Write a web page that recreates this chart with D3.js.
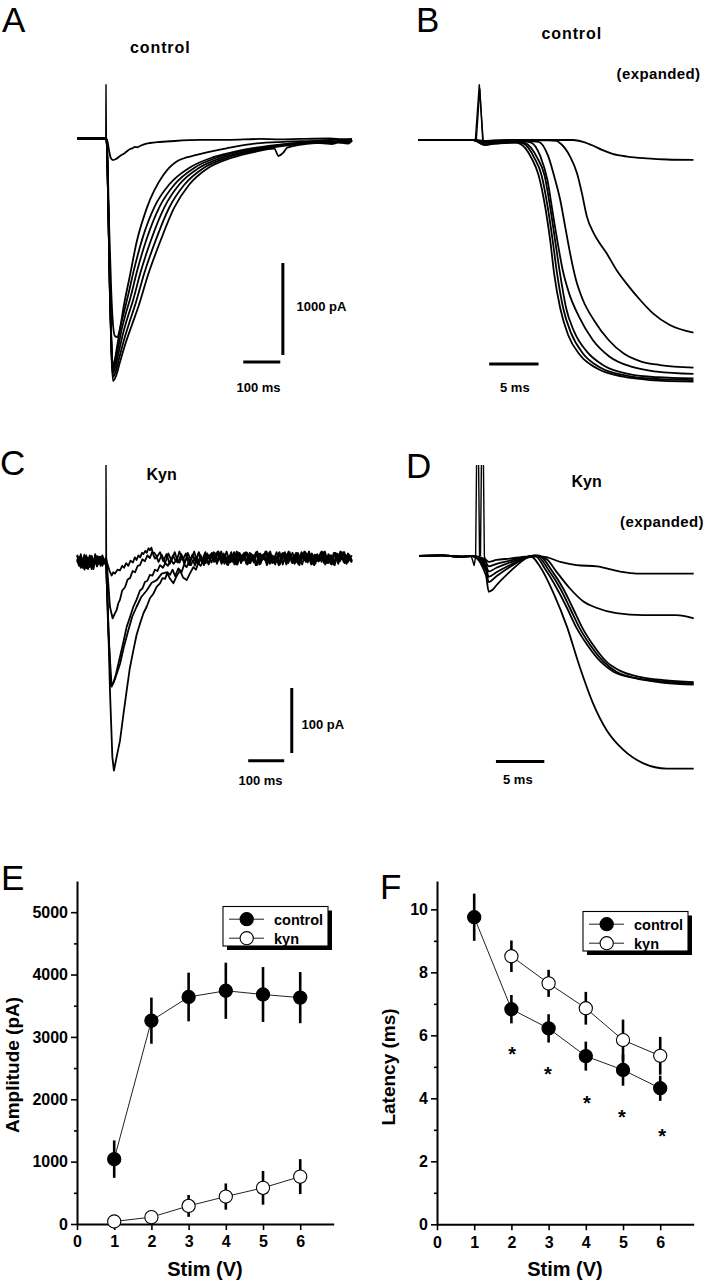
<!DOCTYPE html>
<html>
<head>
<meta charset="utf-8">
<script src="https://cdn.jsdelivr.net/npm/d3@7"></script>
<style>
  html, body { margin: 0; padding: 0; background: #fff; }
  svg { display: block; }
  text { font-family: "Liberation Sans", Arial, Helvetica, sans-serif; fill: #000; }
</style>
</head>
<body>
<svg id="fig" width="707" height="1280"></svg>
<script>
// Evoked currents (A-D, time in ms from the stimulus, current in pA) and the
// stimulus-response summaries (E, F).

// ---- A: control, 7 stimulus strengths ----
var A_TRACES = [
  [[-78,0],[-43,-5],[-3,0],[3,-16],[8,-125],[13,-212],[19,-234],[27,-223],[38,-190],[51,-158],[65,-114],[72,-105],[78,-92],[85,-95],[92,-82],[105,-60],[119,-49],[146,-38],[186,-27],[254,-16],[335,-14],[416,-5],[470,-10],[524,-5],[605,0],[640,-8],[665,-5]],
  [[-78,0],[-3,0],[3,-71],[8,-886],[14,-1647],[19,-2027],[24,-2147],[30,-2158],[35,-2114],[41,-1994],[47,-1845],[65,-1484],[83,-1122],[110,-759],[155,-397],[191,-250],[245,-179],[326,-107],[407,-52],[488,-35],[578,-22],[620,-10],[645,-30],[665,-16]],
  [[-78,0],[-40,2],[-3,0],[1.4,-5],[4.1,-330],[6.8,-860],[10.8,-1680],[14.9,-2240],[18.9,-2484],[23,-2420],[30,-2260],[39,-2050],[49,-1880],[60,-1700],[76,-1420],[99,-1080],[132,-735],[172,-495],[228,-312],[290,-203],[360,-132],[445,-78],[540,-40],[600,-30],[630,-45],[665,-15]],
  [[-78,0],[-40,-3],[-3,0],[1.4,-5],[4.1,-335],[6.8,-870],[10.8,-1700],[14.9,-2270],[18.9,-2516],[24,-2450],[32,-2290],[42,-2080],[53,-1910],[66,-1730],[84,-1440],[110,-1090],[145,-740],[185,-500],[240,-315],[302,-205],[372,-135],[455,-80],[547,-42],[610,-60],[640,-25],[665,-18]],
  [[-78,0],[-40,0],[-3,0],[1.4,-5],[4.1,-338],[6.8,-875],[10.8,-1720],[14.9,-2300],[18.9,-2549],[25,-2490],[34,-2330],[46,-2120],[58,-1950],[73,-1760],[93,-1460],[122,-1100],[158,-745],[198,-500],[252,-318],[314,-208],[383,-138],[462,-82],[553,-44],[620,-15],[650,-40],[665,-20]],
  [[-78,0],[-40,2],[-3,0],[1.4,-5],[4.1,-340],[6.8,-880],[10.8,-1740],[14.9,-2330],[18.9,-2592],[26,-2535],[36,-2380],[50,-2170],[64,-1990],[81,-1780],[103,-1470],[134,-1110],[171,-750],[211,-505],[264,-320],[326,-210],[393,-140],[470,-85],[560,-45],[615,-35],[655,-55],[665,-22]],
  [[-78,0],[-40,3],[-3,0],[1.4,-5],[4.1,-342],[6.8,-886],[10.8,-1755],[14.9,-2353],[18.9,-2636],[27,-2582],[37.8,-2429],[54,-2212],[70,-2027],[89,-1810],[113.5,-1484],[146,-1125],[184,-755],[224,-505],[276,-321],[338,-212],[403,-144],[455,-110],[466,-190],[479,-155],[490,-100],[565,-49],[625,-40],[665,-27]]
];
var A_ARTIFACT = [[[-0.6,0],[0,590],[1,0]]];

// ---- B: control, expanded time base ----
var B_TRACES = [
  [[-6.2,0],[-0.6,0],[0.5,-10],[1.5,-5],[3,0],[9.5,0],[10.5,-20],[11.5,-60],[12.5,-110],[13.5,-150],[15,-180],[17,-200],[19,-212],[21.7,-217]],
  [[-6.2,0],[-0.6,0],[0.5,-15],[1.5,-8],[3,-3],[7,-3],[7.8,-10],[8.2,-36],[9.2,-181],[9.9,-362],[10.4,-580],[10.9,-833],[11.6,-1014],[12.2,-1123],[12.9,-1232],[13.9,-1413],[14.9,-1558],[16.3,-1739],[17.6,-1884],[19.3,-2011],[21.7,-2094]],
  [[-6.2,0],[-0.6,0],[0.5,-25],[1.5,-18],[3,-12],[5,-12],[6,-20],[7,-181],[7.6,-399],[8.2,-652],[8.7,-942],[9.2,-1232],[9.8,-1522],[10.5,-1739],[11.6,-1956],[13.1,-2174],[14.6,-2319],[16.4,-2409],[18.3,-2446],[21.7,-2475]],
  [[-6.2,0],[-0.6,0],[0.5,-30],[1.5,-22],[3,-15],[4.4,-15],[5.2,-25],[6.2,-181],[6.9,-435],[7.45,-797],[7.95,-1123],[8.45,-1413],[9.1,-1667],[10.1,-1920],[11.5,-2174],[13.2,-2355],[15.4,-2464],[18,-2518],[21.7,-2543]],
  [[-6.2,0],[-0.6,0],[0.5,-45],[1.5,-35],[3,-25],[4,-22],[4.6,-30],[5.9,-199],[6.6,-380],[7.2,-742],[7.7,-1105],[8.2,-1467],[8.8,-1829],[9.6,-2080],[10.9,-2300],[12.6,-2450],[15.2,-2545],[18,-2578],[21.7,-2590]],
  [[-6.2,0],[-0.6,0],[0.5,-50],[1.5,-38],[3,-28],[3.8,-25],[4.4,-35],[5.6,-199],[6.3,-380],[6.95,-742],[7.45,-1105],[7.9,-1467],[8.5,-1829],[9.3,-2100],[10.5,-2320],[12.2,-2470],[14.9,-2560],[17.6,-2595],[21.7,-2609]],
  [[-6.2,0],[-0.6,0],[0.5,-55],[1.5,-40],[3,-30],[3.6,-28],[4.1,-40],[5.3,-199],[6,-380],[6.7,-742],[7.2,-1105],[7.6,-1467],[8.2,-1829],[9,-2120],[10.2,-2337],[11.9,-2482],[14.6,-2573],[17.3,-2609],[21.7,-2627]]
];
var B_ARTIFACT = [[[-0.4,0],[0,605],[0.4,-20]], [[-0.3,0],[0.05,560],[0.35,-10]]];

// ---- C: kynurenate ----
var C_TRACES = [
  [[-80,5],[-75,-8],[-70,6],[-65,-12],[-60,-2],[-55,-16],[-50,-5],[-45,-14],[-40,3],[-35,-8],[-30,6],[-25,-11],[-20,2],[-15,-6],[-10,4],[-5,-9],[0,0],
   [3.7,-9],[10,-20],[15.7,-27],[20,-22],[25,-24],[32,-18],[38.9,-19],[45,-12],[50,-15],[56,-8],[62,-12],[68,-4],[75,-7],[80,1],[85,-3],[90,4],[95,1],[100,8],[104,6],[109,11],[113,8],[118,15],[122,12],[126,16],[128,12],[132,4],[136,-1],[140,2],
   [146,-6],[155,5],[164,-8],[173,7],[182,-4],[191,9],[200,-7],[209,6],[218,-10],[227,8],[236,-3],[245,10],[254,-8],[263,4],[272,-11],[281,7],[290,-2],[299,9],[308,-9],[317,5],[326,-6],[335,10],[344,-7],[353,3],[362,-10],[371,8],[380,-4],[389,9],[398,-8],[407,5],[416,-11],[425,6],[434,-3],[443,10],[452,-7],[461,4],[470,-10],[479,7],[488,-5],[497,9],[506,-8],[515,3],[524,-9],[533,8],[542,-4],[551,10],[560,-7],[569,5],[578,-11],[587,6],[596,-3],[605,9],[614,-8],[623,4],[632,-10],[641,7],[650,-5],[659,9],[668,-9],[676,5],[683,-4]],
  [[-80,-3],[-75,-12],[-70,-2],[-65,-15],[-60,-6],[-55,4],[-50,-10],[-45,-1],[-40,-17],[-35,-6],[-30,2],[-25,-12],[-20,-4],[-15,-9],[-10,3],[-5,-8],[0,0],
   [3.7,-19],[11,-75],[18.5,-93],[24,-86],[29.6,-80],[34,-70],[38.9,-64],[45,-50],[52.8,-45],[60,-33],[66.7,-31],[74,-20],[80.6,-22],[88,-12],[94.4,-11],[101,-2],[108,-5],[115,4],[122,0],[128,9],
   [134,8],[142,2],[150,9],[159,-5],[168,6],[177,-9],[186,4],[195,-6],[204,10],[213,-3],[222,7],[231,-11],[240,5],[249,-4],[258,9],[267,-8],[276,3],[285,-10],[294,8],[303,-2],[312,10],[321,-9],[330,4],[339,-6],[348,9],[357,-10],[366,6],[375,-3],[384,8],[393,-9],[402,2],[411,-7],[420,10],[429,-5],[438,6],[447,-11],[456,4],[465,-3],[474,9],[483,-8],[492,5],[501,-10],[510,7],[519,-2],[528,8],[537,-9],[546,3],[555,-6],[564,10],[573,-8],[582,4],[591,-5],[600,9],[609,-10],[618,6],[627,-3],[636,8],[645,-9],[654,5],[663,-6],[672,7],[683,-5]],
  [[-80,-7],[-75,2],[-70,-13],[-65,-4],[-60,-18],[-55,-8],[-50,1],[-45,-11],[-40,-3],[-35,-14],[-30,-5],[-25,3],[-20,-9],[-15,-2],[-10,-12],[-5,-4],[0,0],
   [6.5,-101],[13,-196],[20,-193],[28,-178],[38.9,-152],[48,-130],[57.4,-106],[66,-92],[76,-75],[85,-64],[94.4,-50],[101,-47],[108,-37],[115,-35],[122,-26],[129,-27],[136,-18],[143,-20],[150,-11],[158,-15],[165,-8],[172,-12],[180,-3],[188,-9],[196,-2],[204,-7],[212,3],[219,-6],[226,2],[233,-5],
   [240,4],[249,-6],[258,8],[267,-3],[276,9],[285,-9],[294,5],[303,-5],[312,10],[321,-7],[330,3],[339,-11],[348,6],[357,-2],[366,9],[375,-8],[384,4],[393,-10],[402,7],[411,-3],[420,8],[429,-9],[438,5],[447,-6],[456,10],[465,-7],[474,2],[483,-10],[492,8],[501,-4],[510,9],[519,-8],[528,3],[537,-11],[546,7],[555,-2],[564,9],[573,-9],[582,5],[591,-5],[600,10],[609,-7],[618,3],[627,-10],[636,8],[645,-4],[654,9],[663,-8],[672,4],[683,-6]],
  [[-80,-1],[-75,-10],[-70,3],[-65,-7],[-60,-15],[-55,-2],[-50,-11],[-45,4],[-40,-6],[-35,-17],[-30,-4],[-25,-10],[-20,2],[-15,-12],[-10,-3],[-5,-7],[0,0],
   [6,-110],[15.7,-198],[25,-186],[38.9,-163],[50,-136],[62,-111],[73,-90],[85,-75],[98,-60],[113,-50],[127,-38],[141,-34],[155,-24],[168.5,-22],[178,-32],[187,-39],[196,-28],[205.6,-19],[214,-30],[224,-34],[233,-24],[242.6,-14],[250,-18],[256,-8],[263,-12],[270,-4],[277,-8],
   [284,2],[293,-7],[302,8],[311,-4],[320,10],[329,-9],[338,3],[347,-6],[356,9],[365,-10],[374,5],[383,-3],[392,8],[401,-8],[410,4],[419,-11],[428,7],[437,-2],[446,10],[455,-9],[464,3],[473,-5],[482,9],[491,-10],[500,6],[509,-3],[518,8],[527,-7],[536,2],[545,-10],[554,9],[563,-4],[572,7],[581,-9],[590,3],[599,-6],[608,10],[617,-8],[626,4],[635,-11],[644,6],[653,-2],[662,9],[671,-7],[683,4]],
  [[-80,3],[-75,-6],[-70,-15],[-65,-3],[-60,5],[-55,-8],[-50,-17],[-45,-5],[-40,3],[-35,-10],[-30,-2],[-25,-13],[-20,-4],[-15,2],[-10,-9],[-5,-5],[0,0],
   [3.7,-50],[11,-204],[17.6,-306],[22,-327],[29.6,-306],[38.9,-281],[48,-242],[57.4,-204],[66,-170],[76,-142],[85,-118],[94.4,-101],[104,-85],[113,-75],[122,-62],[131.5,-55],[141,-44],[150,-39],[157,-31],[164,-32],[171,-22],[178,-26],[185,-18],[192,-28],[201,-16],[210,-22],[217,-10],[224,-14],[230,-6],[236,-11],[242,-3],[247,-12],[253,-2],[258,-8],[264,0],[270,-8],[276,2],
   [282,-1],[291,6],[300,-6],[309,9],[318,-4],[327,7],[336,-10],[345,4],[354,-7],[363,10],[372,-3],[381,6],[390,-9],[399,8],[408,-2],[417,9],[426,-10],[435,5],[444,-5],[453,8],[462,-8],[471,3],[480,-11],[489,7],[498,-3],[507,10],[516,-7],[525,4],[534,-9],[543,9],[552,-2],[561,6],[570,-10],[579,5],[588,-4],[597,9],[606,-8],[615,2],[624,-9],[633,8],[642,-3],[651,10],[660,-6],[669,4],[683,-7]]
];
var C_ARTIFACT = [[[0,0],[0,143],[1.5,-40]]];

// ---- D: kynurenate, expanded ----
var D_TRACES = [
  [[-6.3,0],[-4,1],[-2,-1],[-0.8,0],[0.62,-6],[0.9,-9],[1.7,-6],[3.1,-4],[4.8,-1],[6.5,-1],[8.3,-9],[10,-14],[12.1,-16],[14.5,-24],[16.2,-27],[18.6,-27],[22.1,-27]],
  [[-6.3,0],[-4,1],[-2,-1],[-0.8,0],[0.62,-10],[0.9,-16],[1.7,-12],[3.1,-7],[4.5,-2],[5.9,0],[6.9,-5],[7.9,-24],[9.3,-50],[10.7,-70],[12.1,-80],[14.1,-88],[16.9,-91],[20.3,-91],[22.1,-96]],
  [[-6.3,0],[-4,1],[-2,-1],[-0.8,0],[0.62,-14],[0.9,-24],[1.7,-18],[3.1,-10],[4.5,-3],[5.6,1],[6.9,-24],[7.95,-50],[9,-80],[10,-111],[11.1,-137],[12.5,-163],[13.8,-178],[16,-188],[19,-195],[22.1,-198]],
  [[-6.3,0],[-4,1],[-2,-1],[-0.8,0],[0.62,-18],[0.9,-32],[1.7,-25],[3.1,-14],[4.5,-4],[5.8,1],[7.2,-24],[8.3,-50],[9.3,-80],[10.3,-111],[11.4,-137],[12.8,-163],[14.1,-178],[16.2,-188],[19,-193],[22.1,-196]],
  [[-6.3,0],[-4,1],[-2,-1],[-0.8,0],[0.62,-22],[0.9,-40],[1.7,-31],[3.1,-17],[4.5,-5],[6,1],[7.5,-24],[8.6,-50],[9.6,-80],[10.6,-111],[11.7,-137],[13.1,-163],[14.4,-176],[16.5,-186],[19,-191],[22.1,-194]],
  [[-6.3,0],[-4,1],[-2,-1],[-0.8,0],[0.62,-30],[0.9,-55],[1.3,-52],[1.7,-45],[3.1,-24],[4.5,-6],[5.2,0],[6.2,-16],[7.6,-57],[9,-109],[10.3,-170],[11.7,-227],[13.1,-268],[14.8,-298],[16.9,-319],[19.3,-327],[22.1,-327]]
];
var D_ARTIFACT = [[[-0.9,0],[-0.6,-15],[-0.45,0],[-0.25,300],[-0.05,0]], [[0.05,0],[0.25,300],[0.45,0],[0.62,-10]]];

// ---- E, F: summary ----
var STIM = [1, 2, 3, 4, 5, 6];
var AMP_CONTROL = [1040, 3260, 3640, 3740, 3680, 3630];
var AMP_CONTROL_SEM = [300, 370, 390, 450, 440, 410];
var AMP_KYN = [40, 110, 290, 440, 580, 760];
var AMP_KYN_SEM = [30, 100, 175, 210, 270, 280];

var LAT_CONTROL = [9.75, 6.83, 6.22, 5.34, 4.9, 4.32];
var LAT_CONTROL_SEM = [0.75, 0.45, 0.45, 0.46, 0.5, 0.4];
var LAT_KYN_STIM = [2, 3, 4, 5, 6];
var LAT_KYN = [8.51, 7.65, 6.86, 5.85, 5.35];
var LAT_KYN_SEM = [0.5, 0.43, 0.52, 0.65, 0.6];
var SIG_STIM = [2.02, 2.98, 4.03, 4.97, 6.05];
var SIG_LAT = [5.56, 4.92, 4.0, 3.58, 2.97];

var X_TICKS = [0, 1, 2, 3, 4, 5, 6];
var AMP_TICKS = [0, 1000, 2000, 3000, 4000, 5000];
var AMP_MINOR = [500, 1500, 2500, 3500, 4500];
var LAT_TICKS = [0, 2, 4, 6, 8, 10];
var LAT_MINOR = [1, 3, 5, 7, 9];

var svg = d3.select("#fig");

svg.append("defs").append("clipPath").attr("id", "clipD")
  .append("rect").attr("x", 400).attr("y", 465).attr("width", 307).attr("height", 320);

function label(x, y, str, size, opts) {
  opts = opts || {};
  var t = svg.append("text").attr("x", x).attr("y", y).text(str)
    .attr("font-size", size)
    .attr("font-weight", opts.weight || "bold");
  if (opts.spacing) t.attr("letter-spacing", opts.spacing);
  if (opts.anchor) t.attr("text-anchor", opts.anchor);
  if (opts.rotate) t.attr("transform", "rotate(-90," + x + "," + y + ")");
  return t;
}

function drawTraces(traces, artifacts, xs, ys, curve, clip) {
  var g = svg.append("g");
  var line = d3.line().x(function (d) { return xs(d[0]); }).y(function (d) { return ys(d[1]); }).curve(curve);
  var straight = d3.line().x(function (d) { return xs(d[0]); }).y(function (d) { return ys(d[1]); });
  var ga = g.append("g");
  if (clip) ga.attr("clip-path", "url(#" + clip + ")");
  ga.selectAll("path").data(artifacts).join("path")
    .attr("d", straight)
    .attr("fill", "none").attr("stroke", "#000").attr("stroke-width", 1.4);
  g.selectAll("path.tr").data(traces).join("path")
    .attr("class", "tr").attr("d", line)
    .attr("fill", "none").attr("stroke", "#000").attr("stroke-width", 1.8)
    .attr("stroke-linejoin", "round");
}

function bar(x1, y1, x2, y2) {
  svg.append("line").attr("x1", x1).attr("y1", y1).attr("x2", x2).attr("y2", y2)
    .attr("stroke", "#000").attr("stroke-width", 3);
}

// ---------- A ----------
var xA = d3.scaleLinear().domain([0, 100]).range([106, 143]);
var yA = d3.scaleLinear().domain([0, -1000]).range([138.5, 230.5]);
drawTraces(A_TRACES, A_ARTIFACT, xA, yA, d3.curveMonotoneX);
bar(xA(371), yA(-2430), xA(471), yA(-2430));
bar(xA(478), yA(-1353), xA(478), yA(-2353));
label(2, 32, "A", 35, { weight: "normal" });
label(130, 53, "control", 16, { spacing: 0.9 });
label(296.5, 311, "1000 pA", 13);
label(236.5, 391.5, "100 ms", 13);

// ---------- B ----------
var xB = d3.scaleLinear().domain([0, 5]).range([479.3, 528.65]);
var yB = d3.scaleLinear().domain([0, -1000]).range([140, 232]);
drawTraces(B_TRACES, B_ARTIFACT, xB, yB, d3.curveMonotoneX);
bar(xB(1.0), yB(-2435), xB(6.0), yB(-2435));
label(416, 32, "B", 35, { weight: "normal" });
label(541.5, 39, "control", 16, { spacing: 0.9 });
label(616.5, 79, "(expanded)", 15, { spacing: 0.4 });
label(500, 391.5, "5 ms", 13);

// ---------- C ----------
var xC = d3.scaleLinear().domain([0, 100]).range([106, 142]);
var yC = d3.scaleLinear().domain([0, -100]).range([558, 623]);
drawTraces(C_TRACES, C_ARTIFACT, xC, yC, d3.curveLinear);
bar(xC(395), yC(-312), xC(495), yC(-312));
bar(xC(516), yC(-200), xC(516), yC(-300));
label(0, 475, "C", 35, { weight: "normal" });
label(146.5, 480, "Kyn", 16);
label(301.5, 729, "100 pA", 13);
label(238.5, 785, "100 ms", 13);

// ---------- D ----------
var xD = d3.scaleLinear().domain([0, 5]).range([480, 528.35]);
var yD = d3.scaleLinear().domain([0, -100]).range([556, 621]);
drawTraces(D_TRACES, D_ARTIFACT, xD, yD, d3.curveMonotoneX, "clipD");
bar(xD(1.65), yD(-316), xD(6.65), yD(-316));
label(406, 478, "D", 35, { weight: "normal" });
label(571.5, 487, "Kyn", 16);
label(620, 527, "(expanded)", 15, { spacing: 0.4 });
label(503, 784, "5 ms", 13);

// ---------- summary plots ----------
function axes(xs, ys, yTicks, yMinor) {
  var g = svg.append("g");
  var y0 = ys.range()[0], x0 = xs.range()[0];
  g.append("g").attr("transform", "translate(0," + y0 + ")")
    .call(d3.axisBottom(xs).tickValues(X_TICKS).tickSize(6).tickSizeOuter(0).tickPadding(6).tickFormat(d3.format("d")));
  g.append("g").attr("transform", "translate(" + x0 + ",0)")
    .call(d3.axisLeft(ys).tickValues(yTicks).tickSize(6).tickSizeOuter(0).tickPadding(3).tickFormat(d3.format("d")));
  g.append("g").attr("transform", "translate(" + x0 + ",0)")
    .call(d3.axisLeft(ys).tickValues(yMinor).tickSize(3).tickSizeOuter(0).tickFormat(""))
    .select(".domain").remove();
  g.selectAll(".domain").attr("stroke", "#000").attr("stroke-width", 2);
  g.selectAll(".tick line").attr("stroke", "#000").attr("stroke-width", 1.6);
  g.selectAll(".tick text").attr("font-size", 16).attr("font-weight", "bold")
    .attr("font-family", '"Liberation Sans", Arial, sans-serif').attr("fill", "#000");
}

function series(xs, ys, xv, yv, ev, filled) {
  var g = svg.append("g");
  var pts = xv.map(function (x, i) { return { x: x, y: yv[i], e: ev[i] }; });
  g.append("path").datum(pts)
    .attr("d", d3.line().x(function (d) { return xs(d.x); }).y(function (d) { return ys(d.y); }))
    .attr("fill", "none").attr("stroke", "#222").attr("stroke-width", 1);
  g.selectAll("line.err").data(pts).join("line").attr("class", "err")
    .attr("x1", function (d) { return xs(d.x); }).attr("x2", function (d) { return xs(d.x); })
    .attr("y1", function (d) { return ys(d.y - d.e); }).attr("y2", function (d) { return ys(d.y + d.e); })
    .attr("stroke", "#000").attr("stroke-width", 2.6);
  g.selectAll("circle").data(pts).join("circle")
    .attr("cx", function (d) { return xs(d.x); }).attr("cy", function (d) { return ys(d.y); })
    .attr("r", 6.6)
    .attr("fill", filled ? "#000" : "#fff").attr("stroke", "#000").attr("stroke-width", 1.1);
}

function legend(x, y) {
  var g = svg.append("g");
  g.append("rect").attr("x", x + 4).attr("y", y + 4).attr("width", 105).attr("height", 39.5).attr("fill", "#000");
  g.append("rect").attr("x", x).attr("y", y).attr("width", 105).attr("height", 39.5)
    .attr("fill", "#fff").attr("stroke", "#000").attr("stroke-width", 1.1);
  [["control", true, 12.7], ["kyn", false, 31.7]].forEach(function (e) {
    g.append("line").attr("x1", x + 6).attr("x2", x + 41).attr("y1", y + e[2]).attr("y2", y + e[2])
      .attr("stroke", "#222").attr("stroke-width", 1);
    g.append("circle").attr("cx", x + 23.7).attr("cy", y + e[2]).attr("r", 6.6)
      .attr("fill", e[1] ? "#000" : "#fff").attr("stroke", "#000").attr("stroke-width", 1.1);
    g.append("text").attr("x", x + 51).attr("y", y + e[2] + 5.3).text(e[0])
      .attr("font-size", 14.5).attr("font-weight", "bold");
  });
}

// ---------- E ----------
var xE = d3.scaleLinear().domain([0, 6.9]).range([77, 333.7]);
var yE = d3.scaleLinear().domain([0, 5500]).range([1224, 881]);
axes(xE, yE, AMP_TICKS, AMP_MINOR);
series(xE, yE, STIM, AMP_KYN, AMP_KYN_SEM, false);
series(xE, yE, STIM, AMP_CONTROL, AMP_CONTROL_SEM, true);
legend(223, 906.5);
label(1, 890, "E", 35, { weight: "normal" });
label(205, 1276, "Stim (V)", 20, { anchor: "middle" });
label(19, 1065, "Amplitude (pA)", 19, { anchor: "middle", rotate: true });

// ---------- F ----------
var xF = d3.scaleLinear().domain([0, 6.9]).range([437, 693.7]);
var yF = d3.scaleLinear().domain([0, 10.9]).range([1224.3, 881]);
axes(xF, yF, LAT_TICKS, LAT_MINOR);
series(xF, yF, STIM, LAT_CONTROL, LAT_CONTROL_SEM, true);
series(xF, yF, LAT_KYN_STIM, LAT_KYN, LAT_KYN_SEM, false);
svg.append("g").selectAll("text").data(SIG_STIM).join("text")
  .attr("x", function (d) { return xF(d); })
  .attr("y", function (d, i) { return yF(SIG_LAT[i]) + 12; })
  .attr("text-anchor", "middle").attr("font-size", 20).attr("font-weight", "bold")
  .text("*");
legend(583, 911.5);
label(380, 899, "F", 35, { weight: "normal" });
label(565, 1276, "Stim (V)", 20, { anchor: "middle" });
label(395, 1067, "Latency (ms)", 19, { anchor: "middle", rotate: true });
</script>
</body>
</html>
